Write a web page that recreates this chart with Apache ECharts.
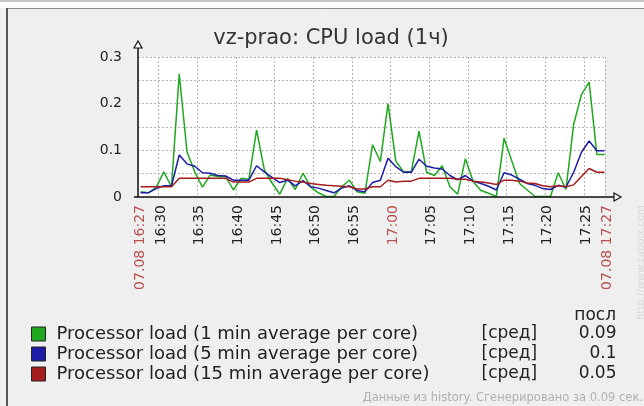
<!DOCTYPE html>
<html>
<head>
<meta charset="utf-8">
<script src="https://cdn.jsdelivr.net/npm/echarts@6/dist/echarts.min.js"></script>
<style>
  html, body { margin: 0; padding: 0; background: #fff; }
  #chart { width: 644px; height: 406px; }
</style>
</head>
<body>
<div id="chart"></div>
<script type="text/javascript">
  // время замеров (раз в минуту)
  var times = ['16:27:40', '16:28:40', '16:29:40', '16:30:40', '16:31:40', '16:32:40', '16:33:40', '16:34:40',
    '16:35:40', '16:36:40', '16:37:40', '16:38:40', '16:39:40', '16:40:40', '16:41:40', '16:42:40', '16:43:40',
    '16:44:40', '16:45:40', '16:46:40', '16:47:40', '16:48:40', '16:49:40', '16:50:40', '16:51:40', '16:52:40',
    '16:53:40', '16:54:40', '16:55:40', '16:56:40', '16:57:40', '16:58:40', '16:59:40', '17:00:40', '17:01:40',
    '17:02:40', '17:03:40', '17:04:40', '17:05:40', '17:06:40', '17:07:40', '17:08:40', '17:09:40', '17:10:40',
    '17:11:40', '17:12:40', '17:13:40', '17:14:40', '17:15:40', '17:16:40', '17:17:40', '17:18:40', '17:19:40',
    '17:20:40', '17:21:40', '17:22:40', '17:23:40', '17:24:40', '17:25:40', '17:26:40', '17:27:40']

  var load1 = [0.011, 0.009, 0.02, 0.054, 0.022, 0.264, 0.097, 0.054, 0.021, 0.047,
    0.044, 0.044, 0.015, 0.04, 0.038, 0.144, 0.058, 0.03, 0.006, 0.04,
    0.016, 0.051, 0.021, 0.009, 0.001, 0.001, 0.022, 0.036, 0.011, 0.008,
    0.112, 0.076, 0.2, 0.077, 0.054, 0.054, 0.141, 0.053, 0.046, 0.067,
    0.022, 0.006, 0.082, 0.033, 0.014, 0.008, 0.001, 0.126, 0.077, 0.029,
    0.015, 0.001, 0.001, 0.001, 0.052, 0.016, 0.156, 0.219, 0.246, 0.091,
    0.091]
  var load5 = [0.009, 0.009, 0.018, 0.024, 0.024, 0.09, 0.071, 0.066, 0.052, 0.051,
    0.046, 0.045, 0.036, 0.036, 0.036, 0.067, 0.054, 0.042, 0.031, 0.036,
    0.024, 0.035, 0.022, 0.019, 0.014, 0.009, 0.019, 0.024, 0.014, 0.011,
    0.031, 0.036, 0.083, 0.065, 0.053, 0.053, 0.081, 0.066, 0.062, 0.06,
    0.046, 0.037, 0.046, 0.034, 0.029, 0.023, 0.015, 0.052, 0.047, 0.038,
    0.029, 0.025, 0.018, 0.016, 0.025, 0.021, 0.053, 0.096, 0.12, 0.099,
    0.099]
  var load15 = [0.022, 0.022, 0.022, 0.022, 0.022, 0.04, 0.04, 0.04, 0.04, 0.04,
    0.04, 0.04, 0.032, 0.032, 0.032, 0.04, 0.04, 0.04, 0.04, 0.037,
    0.034, 0.032, 0.029, 0.027, 0.025, 0.024, 0.023, 0.022, 0.017, 0.017,
    0.022, 0.022, 0.036, 0.032, 0.034, 0.034, 0.04, 0.04, 0.04, 0.04,
    0.04, 0.038, 0.038, 0.034, 0.032, 0.03, 0.027, 0.036, 0.036, 0.034,
    0.03, 0.029, 0.024, 0.022, 0.024, 0.022, 0.026, 0.044, 0.061, 0.053,
    0.053]

  var names = ['Processor load (1 min average per core)',
    'Processor load (5 min average per core)',
    'Processor load (15 min average per core)']
  var colors = ['#1fa81f', '#1c1ca6', '#a41c1c']

  // подписи оси X
  var tickTimes = ['16:27:20', '16:30:00', '16:35:00', '16:40:00', '16:45:00', '16:50:00', '16:55:00', '17:00:00',
    '17:05:00', '17:10:00', '17:15:00', '17:20:00', '17:25:00', '17:27:43']
  var tickLabels = ['07.08 16:27', '16:30', '16:35', '16:40', '16:45', '16:50', '16:55', '17:00',
    '17:05', '17:10', '17:15', '17:20', '17:25', '07.08 17:27']
  var redLabels = ['07.08 16:27', '17:00', '07.08 17:27']

  var yLabels = ['0', '0.1', '0.2', '0.3']

  // минуты от 16:27
  function toMin(s) {
    var p = s.split(':')
    return (+p[0]) * 60 + (+p[1]) + (+(p[2] || 0)) / 60 - (16 * 60 + 27)
  }

  var xMin = toMin(tickTimes[0])
  var xMax = toMin(tickTimes[tickTimes.length - 1])
  var tickVals = tickTimes.map(toMin)

  function pairs(arr) {
    return arr.map(function (v, i) { return [toMin(times[i]), v] })
  }

  function labelFor(v) {
    for (var i = 0; i < tickVals.length; i++) {
      if (Math.abs(tickVals[i] - v) < 0.01) return tickLabels[i]
    }
    return ''
  }

  var G = {left: 138, top: 57, right: 605, bottom: 197}
  var font = 'DejaVu Sans'

  var seriesData = [load1, load5, load15]
  var lastVals = seriesData.map(function (a) { return String(Number(a[a.length - 1].toFixed(2))) })

  var myChart = echarts.init(document.getElementById('chart'), null, {renderer: 'canvas'})

  option = {
    backgroundColor: '#efefef',
    animation: false,
    textStyle: {fontFamily: font},
    title: {
      text: 'vz-prao: CPU load (1ч)',
      left: 326,
      top: 23,
      textAlign: 'center',
      textStyle: {fontFamily: font, fontSize: 21, fontWeight: 'normal', color: '#333'}
    },
    grid: {
      left: G.left,
      top: G.top,
      width: G.right - G.left,
      height: G.bottom - G.top,
      show: true,
      backgroundColor: '#fff',
      borderWidth: 0,
      containLabel: false,
      outerBoundsMode: 'none'
    },
    legend: {
      orient: 'vertical',
      left: 31,
      top: 325,
      padding: 0,
      itemWidth: 14,
      itemHeight: 14,
      itemGap: 2,
      icon: 'rect',
      selectedMode: false,
      itemStyle: {borderColor: '#222', borderWidth: 1},
      data: names,
      formatter: function (name) {
        var i = names.indexOf(name)
        return '{n|' + name + '}{a|[сред]}{v|' + lastVals[i] + '}'
      },
      textStyle: {
        fontFamily: font,
        fontSize: 18,
        color: '#222',
        padding: [0, 0, 0, 6],
        rich: {
          n: {fontFamily: font, fontSize: 18, color: '#222', width: 425},
          a: {fontFamily: font, fontSize: 17, color: '#222', width: 78},
          v: {fontFamily: font, fontSize: 17, color: '#222', width: 57, align: 'right'}
        }
      }
    },
    xAxis: {
      type: 'value',
      min: xMin,
      max: xMax,
      axisLine: {show: false},
      axisTick: {show: false, customValues: tickVals},
      splitLine: {show: true, lineStyle: {color: '#b4b4b4', type: [2, 2], width: 1}},
      axisLabel: {
        customValues: tickVals,
        rotate: 90,
        margin: 8,
        padding: [5, 0, 0, 0],
        fontFamily: font,
        fontSize: 14,
        formatter: function (v) {
          var t = labelFor(v)
          return redLabels.indexOf(t) >= 0 ? '{r|' + t + '}' : '{b|' + t + '}'
        },
        rich: {
          r: {fontFamily: font, fontSize: 14, color: '#b85050'},
          b: {fontFamily: font, fontSize: 14, color: '#222'}
        }
      }
    },
    yAxis: {
      type: 'value',
      min: 0,
      max: 0.3,
      interval: 0.05,
      axisLine: {show: false},
      axisTick: {show: false},
      splitLine: {show: true, lineStyle: {color: '#b4b4b4', type: [2, 2], width: 1}},
      axisLabel: {
        margin: 16,
        fontFamily: font,
        fontSize: 14,
        color: '#222',
        formatter: function (v) {
          var r = Math.round(v * 100) / 100
          var s = String(r)
          return yLabels.indexOf(s) >= 0 ? s : ''
        }
      }
    },
    series: seriesData.map(function (arr, i) {
      return {
        name: names[i],
        type: 'line',
        data: pairs(arr),
        showSymbol: false,
        color: colors[i],
        lineStyle: {width: 1.5, color: colors[i]},
        itemStyle: {color: colors[i]}
      }
    }),
    graphic: [
      // верхняя полоса и рамка
      {type: 'rect', shape: {x: 0, y: 0, width: 644, height: 8}, style: {fill: '#fff'}, silent: true},
      {type: 'rect', shape: {x: 0, y: 0, width: 644, height: 2}, style: {fill: '#c6c6c6'}, silent: true},
      {type: 'line', shape: {x1: 7, y1: 8.5, x2: 644, y2: 8.5}, style: {stroke: '#8a8a8a', lineWidth: 1}, silent: true},
      {type: 'line', shape: {x1: 7, y1: 8, x2: 7, y2: 406}, style: {stroke: '#555', lineWidth: 2}, silent: true},
      // оси со стрелками
      {type: 'line', z: 10, shape: {x1: G.left, y1: G.bottom, x2: G.left, y2: 47}, style: {stroke: '#111', lineWidth: 1.5}, silent: true},
      {type: 'polygon', z: 10, shape: {points: [[G.left, 41], [G.left - 4, 48], [G.left + 4, 48]]}, style: {fill: '#fff', stroke: '#111', lineWidth: 1.2}, silent: true},
      {type: 'line', z: 10, shape: {x1: G.left - 4, y1: G.bottom, x2: 614, y2: G.bottom}, style: {stroke: '#111', lineWidth: 1.5}, silent: true},
      {type: 'polygon', z: 10, shape: {points: [[621, G.bottom], [614, G.bottom - 4], [614, G.bottom + 4]]}, style: {fill: '#fff', stroke: '#111', lineWidth: 1.2}, silent: true},
      // шапка легенды
      {type: 'text', right: 28, top: 307, style: {text: 'посл', fontFamily: font, fontSize: 17, fill: '#222', textAlign: 'right'}, silent: true},
      // подвал
      {type: 'text', right: 1, top: 392, style: {text: 'Данные из history. Сгенерировано за 0.09 сек.', fontFamily: font, fontSize: 11.5, fill: '#b0b0b0'}, silent: true},
      {type: 'text', x: 641, y: 320, rotation: Math.PI / 2, style: {text: 'http://www.zabbix.com', fontFamily: font, fontSize: 10, fill: '#d8d8d8', textAlign: 'left', textVerticalAlign: 'middle'}, silent: true}
    ]
  };
  myChart.setOption(option);
</script>
</body>
</html>
